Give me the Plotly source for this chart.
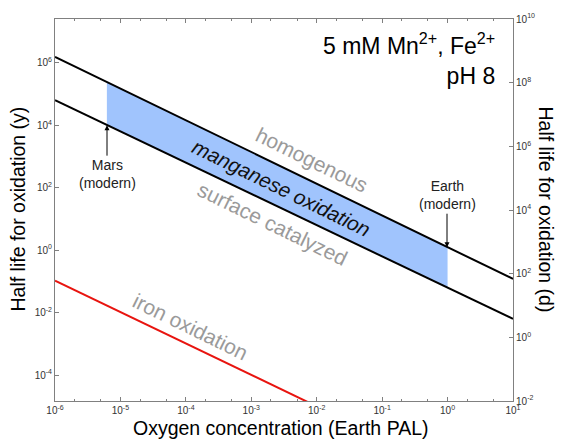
import plotly.graph_objects as go

# ---- data ----
o2_line = [1e-6, 10.0]                 # Earth PAL
homogenous_y = [1.55e6, 0.12]          # half life (years)
surface_y = [6.3e4, 6.3e-3]            # half life (years)
iron_o2 = [1e-6, 1e-2]
iron_y = [0.105, 1.0e-5]

band_o2 = [6.2e-6, 1.0]                # Mars (modern) -> Earth (modern)
band_top = [2.42e5, 1.24]
band_bottom = [1.02e4, 0.063]

x_ticks = [1e-6, 1e-5, 1e-4, 1e-3, 1e-2, 1e-1, 1e0, 1e1]
x_ticktext = ["10<sup>-6</sup>", "10<sup>-5</sup>", "10<sup>-4</sup>", "10<sup>-3</sup>",
              "10<sup>-2</sup>", "10<sup>-1</sup>", "10<sup>0</sup>", "10<sup>1</sup>"]
y_ticks = [1e-4, 1e-2, 1e0, 1e2, 1e4, 1e6]
y_ticktext = ["10<sup>-4</sup>", "10<sup>-2</sup>", "10<sup>0</sup>", "10<sup>2</sup>",
              "10<sup>4</sup>", "10<sup>6</sup>"]
y2_ticks = [1e-2, 1e0, 1e2, 1e4, 1e6, 1e8, 1e10]
y2_ticktext = ["10<sup>-2</sup>", "10<sup>0</sup>", "10<sup>2</sup>", "10<sup>4</sup>",
               "10<sup>6</sup>", "10<sup>8</sup>", "10<sup>10</sup>"]

FONT = "Liberation Sans, Arial, Helvetica, sans-serif"
AX = "#808080"
BLUE = "#a0c4fd"
GREY = "#9a9a9a"

# plot area in pixels
L, R, T, B = 55, 513, 16, 401


def px(x):
    return (x - L) / (R - L)


def py(y):
    return (B - y) / (B - T)


fig = go.Figure()

# blue band
fig.add_trace(go.Scatter(x=band_o2, y=band_bottom, mode="lines", line=dict(width=0),
                         showlegend=False, hoverinfo="skip"))
fig.add_trace(go.Scatter(x=band_o2, y=band_top, mode="lines", line=dict(width=0),
                         fill="tonexty", fillcolor=BLUE, showlegend=False, hoverinfo="skip"))

fig.add_trace(go.Scatter(x=o2_line, y=homogenous_y, mode="lines",
                         line=dict(color="black", width=2), showlegend=False))
fig.add_trace(go.Scatter(x=o2_line, y=surface_y, mode="lines",
                         line=dict(color="black", width=2), showlegend=False))
fig.add_trace(go.Scatter(x=iron_o2, y=iron_y, mode="lines",
                         line=dict(color="#e8140f", width=2), showlegend=False))
# invisible trace to carry the right-hand (days) axis
fig.add_trace(go.Scatter(x=[1e-6], y=[1.0], yaxis="y2", mode="markers",
                         marker=dict(opacity=0), showlegend=False, hoverinfo="skip"))

tickfont = dict(family=FONT, size=10, color="#333333")

fig.update_layout(
    width=563, height=441, autosize=False,
    margin=dict(l=L, r=563 - R, t=T, b=441 - B),
    paper_bgcolor="white", plot_bgcolor="white",
    font=dict(family=FONT, color="black"),
    xaxis=dict(type="log", range=[-6, 1], tickvals=x_ticks, ticktext=x_ticktext,
               ticks="inside", ticklen=4, tickcolor=AX, showline=True, linecolor=AX,
               linewidth=1, mirror="ticks", showgrid=False, zeroline=False,
               tickfont=tickfont,
               minor=dict(ticks="inside", ticklen=2, tickcolor=AX, showgrid=False)),
    yaxis=dict(type="log", range=[-4.83, 7.40], tickvals=y_ticks, ticktext=y_ticktext,
               ticks="inside", ticklen=4, tickcolor=AX, showline=True, linecolor=AX,
               linewidth=1, showgrid=False, zeroline=False, tickfont=tickfont),
    yaxis2=dict(type="log", range=[-2, 10], tickvals=y2_ticks, ticktext=y2_ticktext,
                overlaying="y", side="right", ticks="inside", ticklen=4, tickcolor=AX,
                showline=True, linecolor=AX, linewidth=1, showgrid=False,
                zeroline=False, tickfont=tickfont),
)


def label(text, x, y, size, color="black", angle=0, **kw):
    return dict(text=text, xref="paper", yref="paper", x=px(x), y=py(y),
                xanchor="center", yanchor="middle", showarrow=False,
                textangle=angle, font=dict(size=size, color=color), **kw)


ang = 26
ann = [
    label("Oxygen concentration (Earth PAL)", 281, 428, 19.5),
    label("Half life for oxidation (y)", 18, 208, 19.5, angle=-90),
    label("Half life for oxidation (d)", 546, 208, 19.5, angle=90),
    dict(text="5 mM Mn<sup>2+</sup>, Fe<sup>2+</sup><br>pH 8", xref="paper", yref="paper",
         x=px(497), y=py(56), xanchor="right", yanchor="middle", align="right",
         showarrow=False, font=dict(size=23)),
    label("homogenous", 311, 158, 21, GREY, ang),
    label("<i>manganese oxidation</i>", 281, 186, 20.5, "#111111", ang),
    label("surface catalyzed", 272, 222, 21, GREY, ang),
    label("iron oxidation", 190, 326, 21, GREY, ang),
    dict(text="Mars<br>(modern)", xref="paper", yref="paper", x=px(107), y=py(123),
         ax=0, ay=49, showarrow=True, arrowhead=2, arrowsize=1, arrowwidth=1,
         arrowcolor="black", standoff=0, font=dict(size=14, color="#222222")),
    dict(text="Earth<br>(modern)", xref="paper", yref="paper", x=px(447), y=py(246),
         ax=0, ay=-52, showarrow=True, arrowhead=2, arrowsize=1, arrowwidth=1,
         arrowcolor="black", standoff=0, font=dict(size=14, color="#222222")),
]
fig.update_layout(annotations=ann)

fig.write_html("out.html", config={"displayModeBar": False},
               post_script="document.body.style.margin='0';document.body.style.padding='0';")
